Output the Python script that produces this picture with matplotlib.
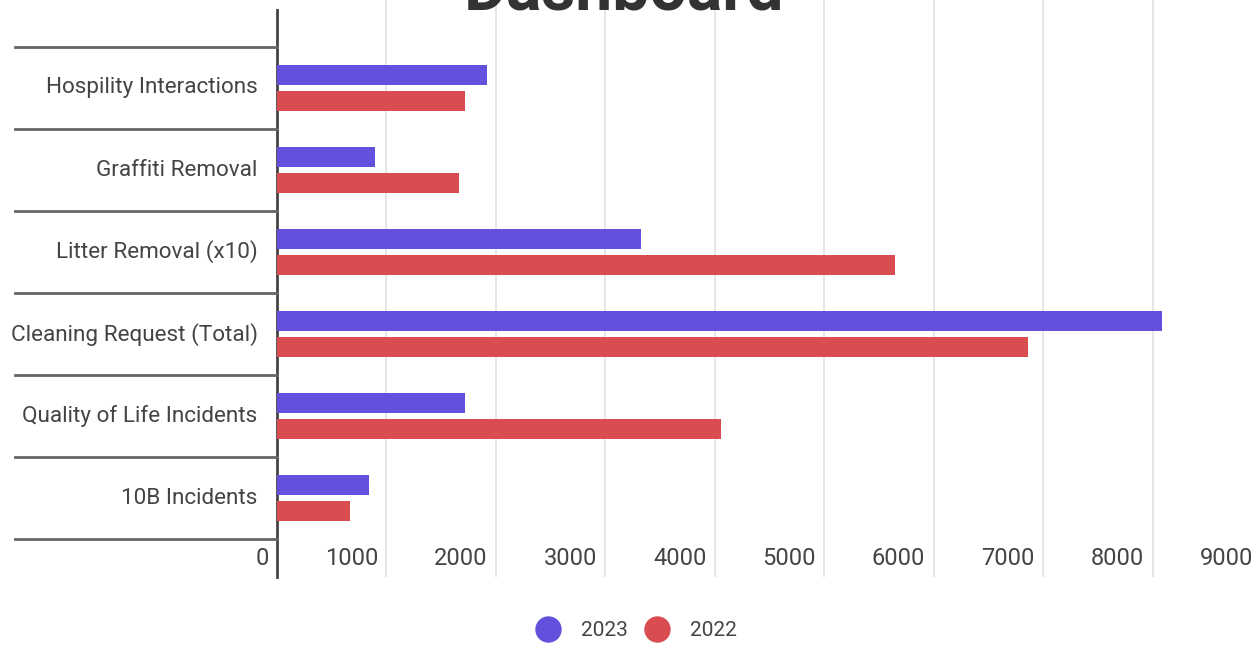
import numpy as np
import matplotlib
matplotlib.use("Agg")
import matplotlib.pyplot as plt
from matplotlib.lines import Line2D

plt.rcParams['font.family'] = ['Roboto', 'DejaVu Sans']

categories = ["Hospility Interactions", "Graffiti Removal", "Litter Removal (x10)",
              "Cleaning Request (Total)", "Quality of Life Incidents", "10B Incidents"]
vals_2023 = [1920, 895, 3330, 8090, 1715, 840]
vals_2022 = [1715, 1660, 5650, 6860, 4055, 665]
xticks = [0, 1000, 2000, 3000, 4000, 5000, 6000, 7000, 8000, 9000]

blue = "#6351de"
red = "#d94c50"
text_col = "#444444"

W, H = 1260, 645
fig = plt.figure(figsize=(W / 100, H / 100), dpi=100)
# axes spans pixel x 277..1262, y 0..577
ax = fig.add_axes([277 / W, 1 - 577 / H, 985 / W, 577 / H])

y = np.arange(len(categories))
bh = 0.245
off = 0.16
ax.barh(y - off, vals_2023, height=bh, color=blue, zorder=3)
ax.barh(y + off, vals_2022, height=bh, color=red, zorder=3)

ax.set_ylim(5.963, -1.073)
ax.set_xlim(0, 9000)

for s in ["top", "right", "bottom"]:
    ax.spines[s].set_visible(False)
ax.spines["left"].set_color(text_col)
ax.spines["left"].set_linewidth(2)
ax.spines["left"].set_bounds(5.963, -0.95)

ax.set_xticks(xticks[1:])
ax.xaxis.grid(True, color="#e2e2e2", linewidth=1.2, zorder=0)
ax.tick_params(axis="x", length=0, labelbottom=False)
ax.set_yticks([])

# x tick labels sit inside the plot, right-aligned just left of each gridline
for v in xticks:
    ax.annotate(str(v), xy=(v, 5.74), xytext=(-6, 0), textcoords="offset points",
                ha="right", va="center", fontsize=17, color=text_col)

# category labels and separator lines on the left
for i, c in enumerate(categories):
    ax.annotate(c, xy=(0, i), xytext=(-14, 0), textcoords="offset points",
                ha="right", va="center", fontsize=16.2, color=text_col)
trans = ax.get_yaxis_transform()
for b in np.arange(len(categories) + 1) - 0.5:
    ax.plot([-262 / 985, 0], [b, b], transform=trans, color="#666666",
            linewidth=2, clip_on=False, zorder=4)

# title is cut off at the top edge, as in the original
fig.text(624 / W, 1 - 9 / H, "Dashboard", ha="center", va="baseline",
         fontsize=47.5, fontweight="bold", color="#333333")

handles = [Line2D([], [], marker="o", linestyle="", markersize=18, color=blue),
           Line2D([], [], marker="o", linestyle="", markersize=18, color=red)]
fig.legend(handles, ["2023", "2022"], loc="center", bbox_to_anchor=(632 / W, 1 - 631 / H),
           ncol=2, frameon=False, fontsize=15, handletextpad=0.6, columnspacing=0.4,
           labelcolor=text_col)

fig.savefig("out.png", dpi=100, facecolor="white")
